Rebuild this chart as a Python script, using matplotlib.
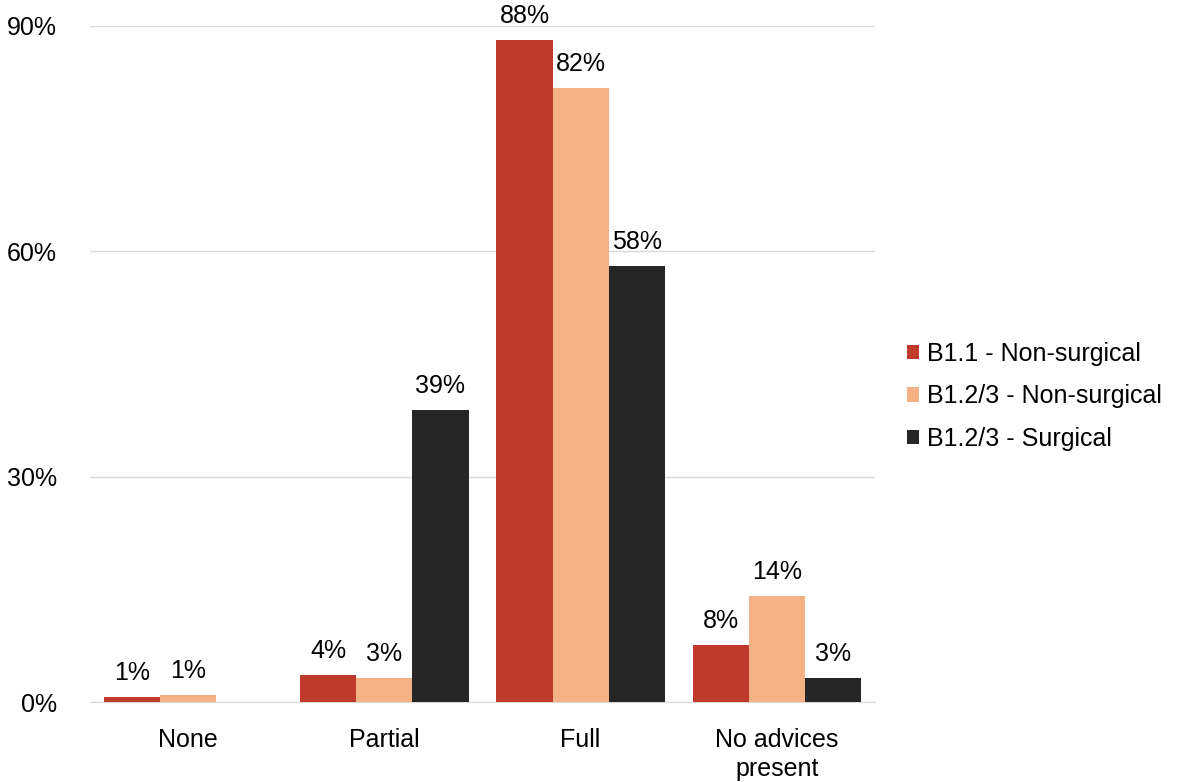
import numpy as np
import matplotlib.pyplot as plt

plt.rcParams["font.family"] = ["Liberation Sans", "DejaVu Sans"]

categories = ["None", "Partial", "Full", "No advices\npresent"]
series = ["B1.1 - Non-surgical", "B1.2/3 - Non-surgical", "B1.2/3 - Surgical"]
b11_nonsurg = [0.7, 3.6, 88.1, 7.65]
b123_nonsurg = [0.9, 3.2, 81.7, 14.1]
b123_surg = [np.nan, 38.9, 58.0, 3.2]
colors = ["#BF3A2B", "#F4B183", "#262626"]

fs = 18

fig = plt.figure(figsize=(11.95, 7.82), dpi=100)
ax = fig.add_axes([0.0753, 0.1023, 0.6569, 0.8645])

x = np.arange(len(categories))
w = 0.286
for i, (vals, name, c) in enumerate(zip([b11_nonsurg, b123_nonsurg, b123_surg], series, colors)):
    pos = x + (i - 1) * w
    ax.bar(pos, vals, width=w, color=c, label=name, zorder=3)
    for p, v in zip(pos, vals):
        if np.isnan(v):
            continue
        ax.text(p, v + 1.6, f"{v:.0f}%", ha="center", va="bottom", fontsize=fs, color="#000000")

ax.set_xlim(-0.5, len(categories) - 0.5)
ax.set_ylim(0, 90)
ax.set_yticks([0, 30, 60, 90])
ax.set_yticklabels([f"{t}%" for t in [0, 30, 60, 90]], fontsize=fs)
ax.set_xticks(x)
ax.set_xticklabels(categories, fontsize=fs, linespacing=1.25)
ax.tick_params(axis="both", length=0)
ax.tick_params(axis="y", pad=24)
ax.tick_params(axis="x", pad=19)
ax.grid(axis="y", color="#D9D9D9", linewidth=1, zorder=0)
for s in ["top", "right", "left"]:
    ax.spines[s].set_visible(False)
ax.spines["bottom"].set_color("#D9D9D9")

fig.legend(loc="center left", bbox_to_anchor=(0.740, 0.493), frameon=False,
           fontsize=fs, handlelength=0.5, handleheight=0.5, handletextpad=0.3,
           labelspacing=0.73)

fig.savefig("out.png", dpi=100)
